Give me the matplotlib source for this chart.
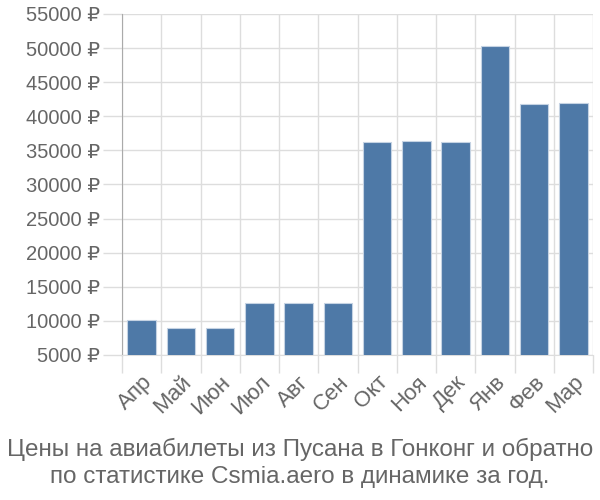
import matplotlib
matplotlib.use("Agg")
import matplotlib.pyplot as plt
import numpy as np

months = ["Апр", "Май", "Июн", "Июл", "Авг", "Сен", "Окт", "Ноя", "Дек", "Янв", "Фев", "Мар"]
prices = [10100, 8900, 9000, 12600, 12600, 12600, 36200, 36400, 36200, 50300, 41800, 41900]
yticks = list(range(5000, 55001, 5000))
ytick_labels = [f"{v} ₽" for v in yticks]
title = "Цены на авиабилеты из Пусана в Гонконг и обратно\nпо статистике Csmia.aero в динамике за год."

plt.rcParams['font.family'] = ['Liberation Sans', 'DejaVu Sans']

fig = plt.figure(figsize=(6, 5), dpi=100)
ax = fig.add_axes([122/600, 1-355/500, (593-122)/600, (355-14)/500])

x = np.arange(len(months))
ax.bar(x, prices, width=0.72, color="#4e79a7", edgecolor="#c5d3e3", linewidth=0.8, zorder=3, bottom=0)

ax.set_xlim(-0.5, len(months) - 0.5)
ax.set_ylim(5000, 55000)
ax.set_yticks(yticks)
ax.set_yticklabels(ytick_labels)
ax.set_xticks(x)
ax.set_xticklabels(months, rotation=45, ha="right", va="top", rotation_mode="anchor")
ax.set_xticks(np.arange(-0.5, len(months)), minor=True)

ax.tick_params(axis="y", length=14, color="#dddddd", width=1, labelsize=14.5, labelcolor="#666666", pad=2)
ax.tick_params(axis="x", which="major", length=0, labelsize=16, labelcolor="#666666", pad=12)
ax.tick_params(axis="x", which="minor", length=13, color="#dddddd", width=1)

ax.grid(True, axis="y", color="#dddddd", linewidth=1, zorder=0)
ax.grid(True, axis="x", which="minor", color="#dddddd", linewidth=1, zorder=0)

for s in ["top", "right"]:
    ax.spines[s].set_visible(False)
ax.spines["bottom"].set_color("#dddddd")
ax.spines["left"].set_color("#aaaaaa")
ax.spines["left"].set_bounds(5000, 55000)

fig.text(0.5, 1 - 463/500, title, ha="center", va="center", fontsize=17.5, color="#666666", linespacing=1.3)

fig.savefig("out.png", dpi=100)
